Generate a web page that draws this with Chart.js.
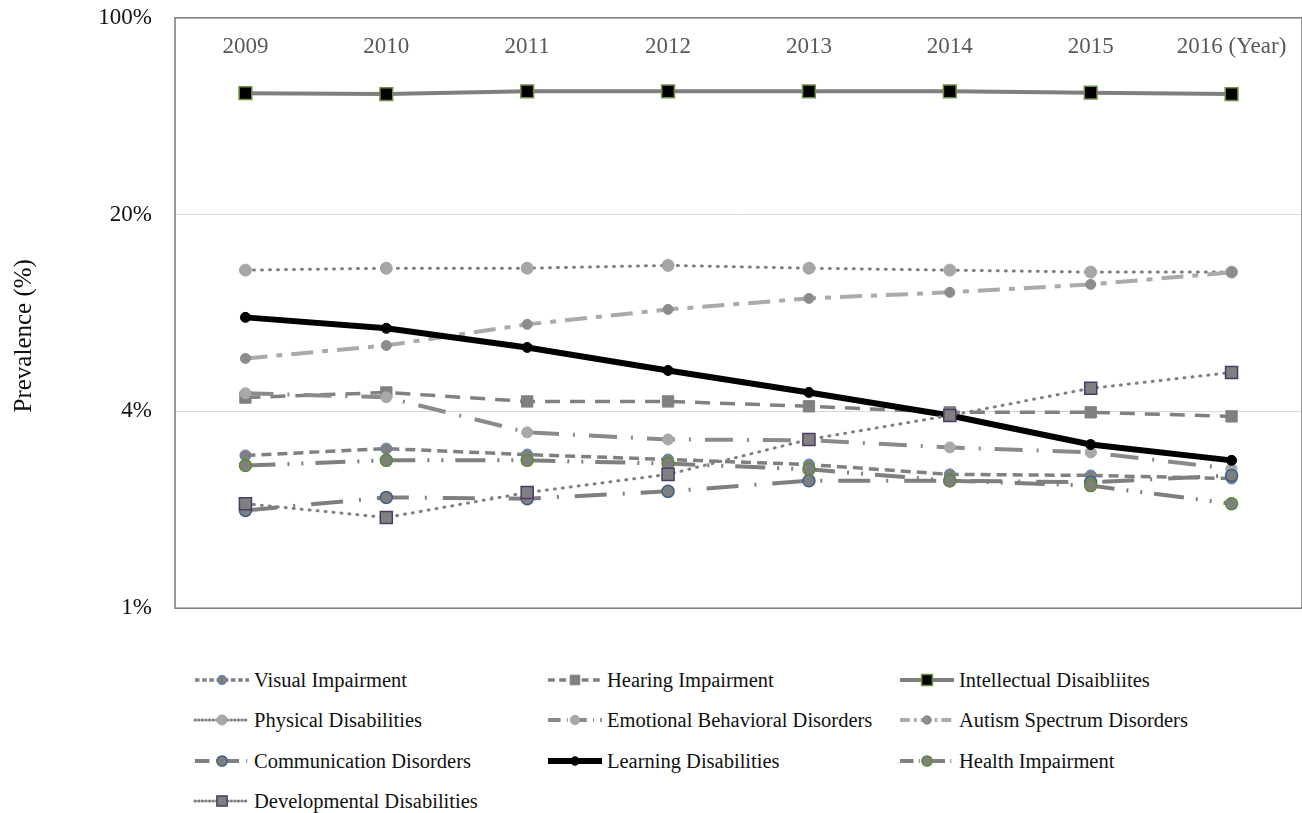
<!DOCTYPE html>
<html>
<head>
<meta charset="utf-8">
<script src="https://cdn.jsdelivr.net/npm/chart.js@4/dist/chart.umd.min.js"></script>
<style>
  body { margin: 0; background: #fff; width: 1302px; height: 813px; overflow: hidden; position: relative; font-family: 'Liberation Serif', 'Times New Roman', serif; }
  #wrap { position: absolute; left: 0; top: -19px; width: 1302px; height: 664px; }
  .item { position: absolute; height: 26px; display: flex; align-items: center; font-size: 20.5px; color: #111; white-space: nowrap; }
  .item canvas { margin-right: 3px; }
</style>
</head>
<body>
<div id="wrap"><canvas id="grafik"></canvas></div>
<div id="legend"></div>
<script>
// tahun dan label sumbu
var years = ['2009', '2010', '2011', '2012', '2013', '2014', '2015', '2016'];
var yearLabels = ['2009', '2010', '2011', '2012', '2013', '2014', '2015', '2016 (Year)'];
var tickValues = [0.8, 4, 20, 100];
var tickLabels = ['1%', '4%', '20%', '100%'];

// prevalensi (%) per jenis disabilitas
var visual = [2.79, 2.95, 2.81, 2.70, 2.59, 2.39, 2.37, 2.31];
var hearing = [4.48, 4.67, 4.34, 4.34, 4.17, 3.97, 3.97, 3.84];
var intellectual = [54.0, 53.6, 54.8, 54.8, 54.8, 54.8, 54.2, 53.6];
var physical = [12.7, 12.9, 12.9, 13.2, 12.9, 12.7, 12.5, 12.5];
var emotional = [4.64, 4.49, 3.37, 3.18, 3.16, 2.98, 2.86, 2.50];
var autism = [6.17, 6.86, 8.15, 9.21, 10.08, 10.59, 11.30, 12.47];
var communication = [1.78, 1.98, 1.96, 2.08, 2.27, 2.27, 2.24, 2.37];
var learning = [8.63, 7.89, 6.75, 5.59, 4.67, 3.87, 3.05, 2.68];
var health = [2.57, 2.68, 2.68, 2.61, 2.49, 2.27, 2.18, 1.88];
var developmental = [1.88, 1.68, 2.06, 2.39, 3.18, 3.87, 4.83, 5.50];

Chart.defaults.font.family = "'Liberation Serif', 'Times New Roman', serif";

function seri(label, data, opt) {
    return Object.assign({
        label: label,
        data: data,
        borderColor: '#808080',
        borderWidth: 3.5,
        borderDash: [],
        borderCapStyle: 'butt',
        pointStyle: 'circle',
        pointRadius: 5.5,
        pointBackgroundColor: '#808080',
        pointBorderColor: '#808080',
        pointBorderWidth: 1,
        tension: 0,
        fill: false,
        clip: false
    }, opt);
}

var datasets = [
    seri('Visual Impairment', visual, { borderDash: [10, 6], pointBorderColor: '#5b84c4' }),
    seri('Hearing Impairment', hearing, { borderDash: [15, 10], pointStyle: 'rect', pointRadius: 8 }),
    seri('Intellectual Disaibliites', intellectual, { borderWidth: 4, borderColor: '#7f7f7f', pointStyle: 'rect', pointRadius: 9, pointBackgroundColor: '#000', pointBorderColor: '#6e9140', pointBorderWidth: 1.5 }),
    seri('Physical Disabilities', physical, { borderWidth: 3, borderDash: [1, 7], borderCapStyle: 'round', pointRadius: 6, pointBackgroundColor: '#a6a6a6', pointBorderColor: '#a6a6a6' }),
    seri('Emotional Behavioral Disorders', emotional, { borderWidth: 4, borderColor: '#8a8a8a', borderDash: [28, 14, 2, 14], pointBackgroundColor: '#a8a8a8', pointBorderColor: '#a8a8a8' }),
    seri('Autism Spectrum Disorders', autism, { borderWidth: 4, borderColor: '#aaaaaa', borderDash: [22, 9, 6, 9], pointRadius: 5, pointBackgroundColor: '#8c8c8c', pointBorderColor: '#8c8c8c' }),
    seri('Communication Disorders', communication, { borderWidth: 4, borderColor: '#7f7f7f', borderDash: [32, 16, 2, 16], pointRadius: 6, pointBackgroundColor: '#7f7f7f', pointBorderColor: '#3e5f8a', pointBorderWidth: 1.5 }),
    seri('Learning Disabilities', learning, { borderWidth: 6, borderColor: '#000', pointRadius: 5, pointBackgroundColor: '#000', pointBorderColor: '#000' }),
    seri('Health Impairment', health, { borderWidth: 4, borderColor: '#7f7f7f', borderDash: [30, 12, 2, 12, 2, 12], pointRadius: 6, pointBackgroundColor: '#7f7f7f', pointBorderColor: '#5f8a36', pointBorderWidth: 1.5 }),
    seri('Developmental Disabilities', developmental, { borderWidth: 3, borderDash: [1, 7], borderCapStyle: 'round', pointStyle: 'rect', pointRadius: 8.5, pointBackgroundColor: '#808080', pointBorderColor: '#4b3a66', pointBorderWidth: 1.5 })
];
// seri terakhir digambar paling atas (seperti Excel)
datasets.forEach(function (d, i) { d.order = datasets.length - i; });

// label tahun di dalam area plot, judul sumbu y, bingkai
var plotExtras = {
    id: 'plotExtras',
    beforeDatasetsDraw: function (chart) {
        var a = chart.chartArea, c = chart.ctx;
        c.save();
        c.strokeStyle = '#7a7a7a';
        c.lineWidth = 1.5;
        c.strokeRect(a.left, a.top, a.right - a.left, a.bottom - a.top);
        c.fillStyle = '#595959';
        c.font = "23px 'Liberation Serif'";
        c.textAlign = 'center';
        c.textBaseline = 'middle';
        var x = chart.scales.x;
        yearLabels.forEach(function (t, i) {
            c.fillText(t, x.getPixelForValue(i), a.top + 29);
        });
        c.fillStyle = '#111';
        c.font = "25px 'Liberation Serif'";
        c.translate(24, a.top + 318);
        c.rotate(-Math.PI / 2);
        c.fillText('Prevalence (%)', 0, 0);
        c.restore();
    }
};

var chart = new Chart(document.getElementById('grafik'), {
    type: 'line',
    data: { labels: years, datasets: datasets },
    options: {
        responsive: true,
        maintainAspectRatio: false,
        animation: false,
        layout: { autoPadding: false, padding: { top: 4, bottom: 32, left: 0, right: 0 } },
        plugins: { legend: { display: false }, tooltip: { enabled: false } },
        scales: {
            x: {
                type: 'category',
                offset: true,
                display: false
            },
            y: {
                type: 'logarithmic',
                min: 0.8,
                max: 100,
                afterBuildTicks: function (s) {
                    s.ticks = tickValues.map(function (v) { return { value: v }; });
                },
                afterFit: function (s) { s.width = 175; },
                border: { display: false },
                grid: { color: '#d9d9d9', lineWidth: 1, drawTicks: false },
                ticks: {
                    padding: 23,
                    color: '#111',
                    font: { size: 23 },
                    callback: function (value) {
                        var i = tickValues.indexOf(value);
                        return i >= 0 ? tickLabels[i] : '';
                    }
                }
            }
        }
    },
    plugins: [plotExtras]
});

// legenda 3 kolom
var legend = document.getElementById('legend');
var colX = [193, 546, 898];
var rowY = [680, 720, 761, 801];
datasets.forEach(function (ds, i) {
    var div = document.createElement('div');
    div.className = 'item';
    div.style.left = colX[i % 3] + 'px';
    div.style.top = (rowY[Math.floor(i / 3)] - 13) + 'px';
    var cv = document.createElement('canvas');
    cv.width = 58; cv.height = 20;
    var c = cv.getContext('2d');
    c.strokeStyle = ds.borderColor;
    c.lineWidth = ds.borderWidth;
    c.lineCap = ds.borderCapStyle;
    c.setLineDash(ds.borderDash.map(function (d) { return d * 0.45; }));
    c.beginPath(); c.moveTo(2, 10); c.lineTo(56, 10); c.stroke();
    c.setLineDash([]);
    c.fillStyle = ds.pointBackgroundColor;
    c.strokeStyle = ds.pointBorderColor;
    c.lineWidth = ds.pointBorderWidth;
    var r = ds.pointRadius * 0.85;
    c.beginPath();
    if (ds.pointStyle === 'rect') {
        var h = r * Math.SQRT1_2;
        c.rect(29 - h, 10 - h, 2 * h, 2 * h);
    } else {
        c.arc(29, 10, r, 0, Math.PI * 2);
    }
    c.fill(); c.stroke();
    div.appendChild(cv);
    var sp = document.createElement('span');
    sp.textContent = ds.label;
    div.appendChild(sp);
    legend.appendChild(div);
});
</script>
</body>
</html>
